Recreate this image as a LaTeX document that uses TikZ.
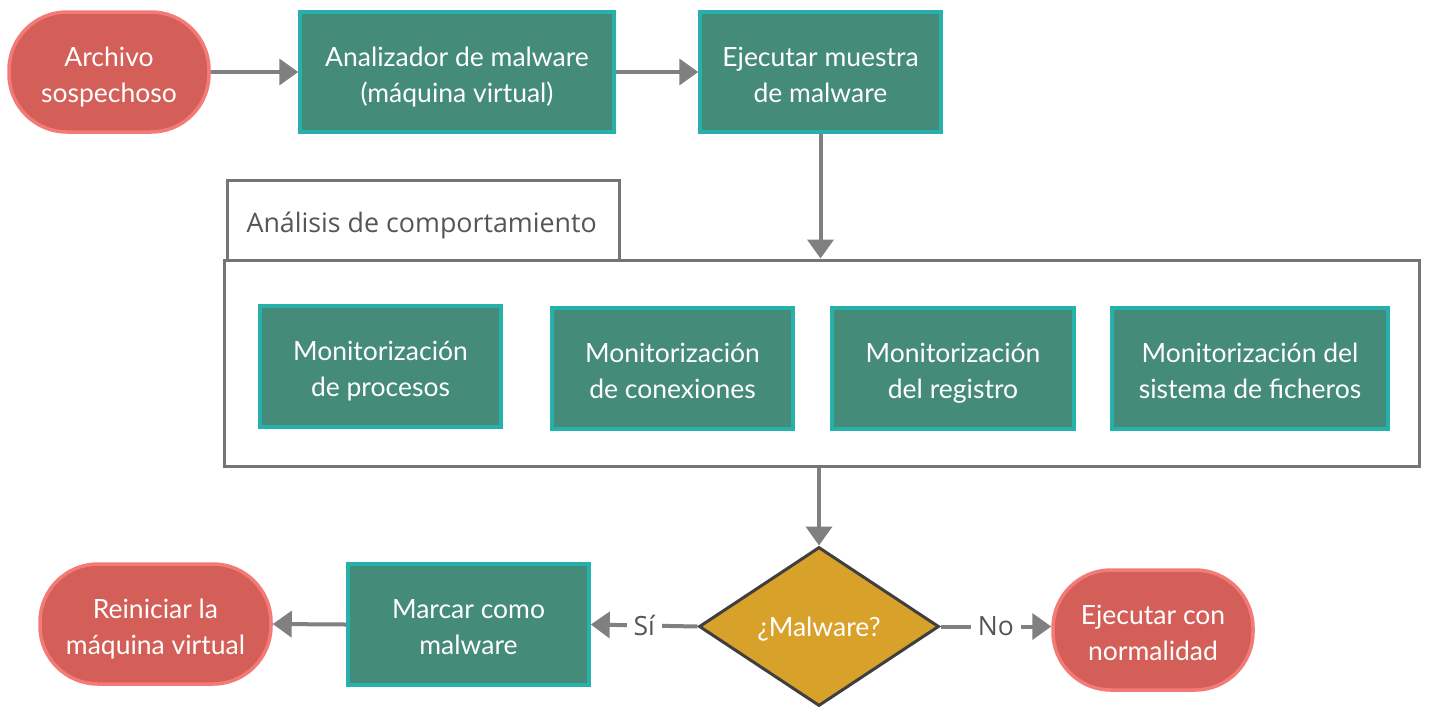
\documentclass[tikz,border=0pt]{standalone}
\usepackage{fontspec}
\setmainfont{Lato}
\newfontfamily\tabfont{Open Sans}
\usetikzlibrary{shapes.geometric,arrows.meta}
\definecolor{redfill}{HTML}{D35F58}
\definecolor{redline}{HTML}{F47A78}
\definecolor{greenfill}{HTML}{458B79}
\definecolor{tealline}{HTML}{27B1AB}
\definecolor{gold}{HTML}{D8A12A}
\definecolor{darkline}{HTML}{3F3F3F}
\definecolor{arrowgray}{HTML}{808080}
\definecolor{framegray}{HTML}{757575}
\definecolor{labelgray}{HTML}{555555}
\tikzset{
  txt/.style={font=\fontsize{26.5}{36}\selectfont, text=white, align=center, text height=65pt, text depth=5pt},
  stadium/.style={txt, draw=redline, fill=redfill, line width=3.5pt, rectangle, rounded corners=58pt, inner sep=0pt},
  procbox/.style={txt, draw=tealline, fill=greenfill, line width=3.5pt, rectangle, inner sep=0pt},
  decision/.style={font=\fontsize{26.5}{36}\selectfont, text=white, text height=25pt, text depth=5pt, draw=darkline, fill=gold, line width=3pt, diamond, inner sep=0pt, minimum width=240pt, minimum height=159pt, shape aspect=1.5},
  frame/.style={draw=framegray, line width=3pt, rectangle, inner sep=0pt, fill=white},
  conn/.style={draw=arrowgray, line width=4pt, -{Triangle[length=19pt,width=26pt]}},
  lbl/.style={font=\tabfont\fontsize{26.5}{30}\selectfont, text=labelgray, fill=white, inner xsep=7pt, inner ysep=4pt},
}
\begin{document}
\begin{tikzpicture}[x=1pt,y=-1pt]
\useasboundingbox[fill=white] (0,0) rectangle (1431,713);
% top row
\node[stadium, minimum width=200pt, minimum height=120pt] (arch) at (109,72) {Archivo\\sospechoso};
\node[procbox, minimum width=314pt, minimum height=120pt] (anal) at (457,72) {Analizador de malware\\(máquina virtual)};
\node[procbox, minimum width=241pt, minimum height=120pt] (ejec) at (820.5,72) {Ejecutar muestra\\de malware};
% container
\node[frame, minimum width=392pt, minimum height=80pt] (tab) at (423,220) {};
\node[anchor=west, font=\tabfont\fontsize{26.8}{30}\selectfont, text=labelgray] (tabtxt) at (243,225) {Análisis de comportamiento};
\node[frame, fill=none, minimum width=1195pt, minimum height=206pt] (cont) at (821.5,363) {};
\node[procbox, minimum width=241pt, minimum height=121pt] (m1) at (380.5,366.5) {Monitorización\\de procesos};
\node[procbox, minimum width=241pt, minimum height=121pt] (m2) at (672.5,368.5) {Monitorización\\de conexiones};
\node[procbox, minimum width=242pt, minimum height=121pt] (m3) at (953,368.5) {Monitorización\\del registro};
\node[procbox, minimum width=276pt, minimum height=121pt] (m4) at (1250,368.5) {Monitorización del\\sistema de ficheros};
% bottom row
\node[decision] (dec) at (819,626.5) {¿Malware?};
\node[procbox, minimum width=241pt, minimum height=121pt] (marc) at (468.5,624.5) {Marcar como\\malware};
\node[stadium, minimum width=231pt, minimum height=120pt] (rein) at (155.5,624) {Reiniciar la\\máquina virtual};
\node[stadium, minimum width=200pt, minimum height=120pt] (norm) at (1153,630) {Ejecutar con\\normalidad};
% connectors
\draw[conn] (arch.east) -- (anal.west);
\draw[conn] (anal.east) -- (ejec.west);
\draw[conn] (ejec.south) -- (ejec.south |- cont.north);
\draw[conn] (dec.north |- cont.south) -- (dec.north);
\draw[conn] (dec.west) -- node[lbl] {Sí} (marc.east);
\draw[conn] (marc.west) -- (rein.east);
\draw[conn] (dec.east) -- node[lbl] {No} (norm.west |- dec.east);
\end{tikzpicture}
\end{document}
